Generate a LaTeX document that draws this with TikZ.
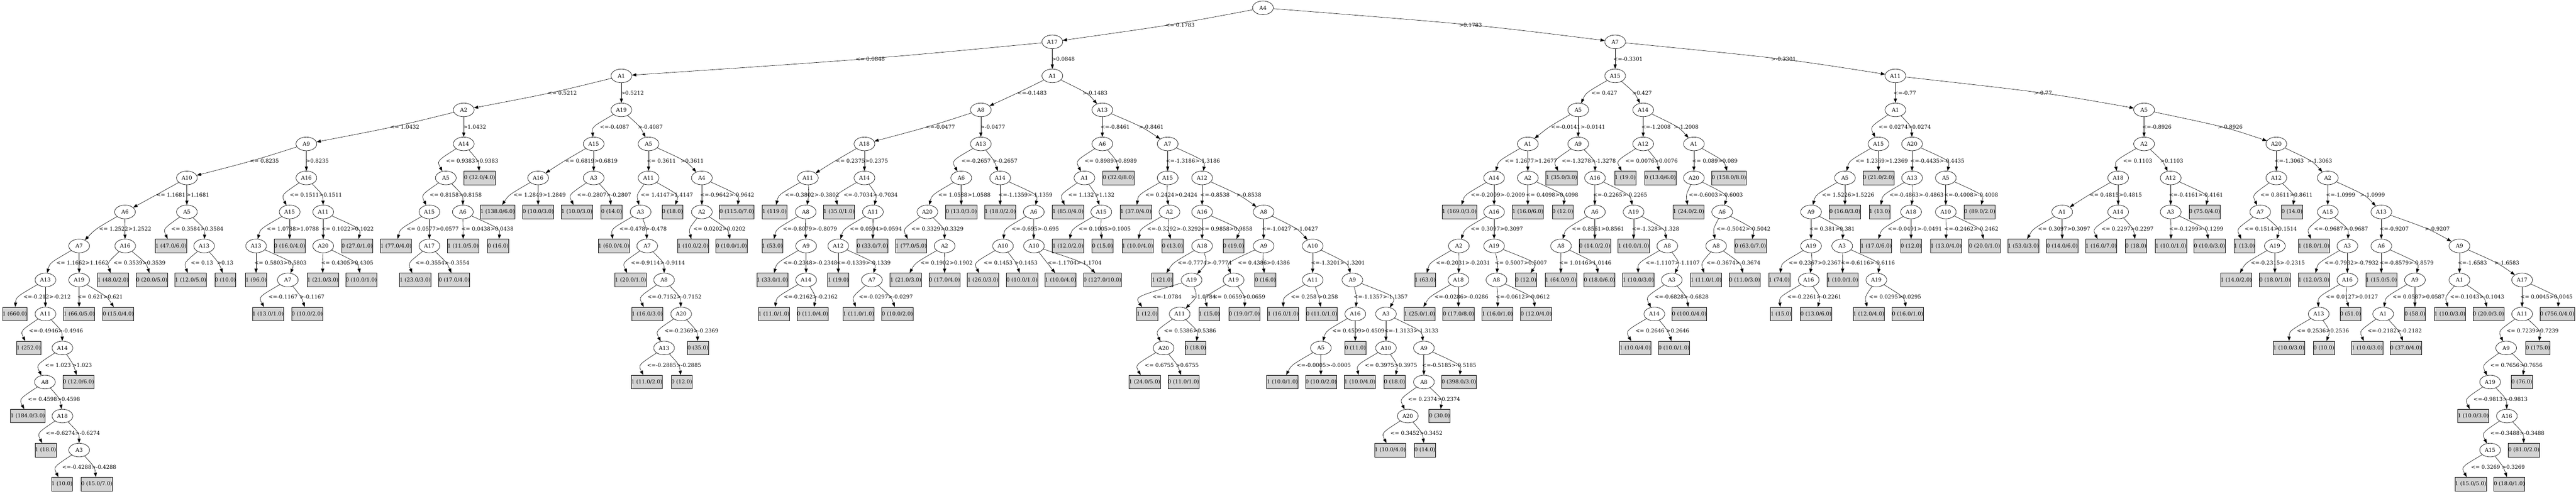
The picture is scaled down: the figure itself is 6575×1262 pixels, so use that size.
\documentclass[tikz,border=0pt]{standalone}
\usepackage{fontspec}
\setmainfont{DejaVu Serif}
\newfontfamily\timesf{Liberation Serif}
\usetikzlibrary{shapes.geometric,arrows.meta}
\definecolor{lgray}{HTML}{D3D3D3}
\newlength\lfw
\newdimen\eEdim
\tikzset{
  tnode/.style={ellipse,draw,line width=0.9pt,minimum width=53pt,minimum height=35pt,inner sep=0pt,font=\fontsize{13.5}{15}\selectfont},
  leafbox/.style={rectangle,draw,line width=0.9pt,fill=lgray,minimum height=35pt,inner sep=0pt,font=\fontsize{13.5}{15}\selectfont},
  elabel/.style={anchor=west,inner sep=0.5pt,font=\fontsize{13.5}{15}\selectfont},
  conn/.style={draw,line width=0.8pt,-{Triangle[length=11pt,width=8pt]}}
}
\newcommand\IN[4]{%
  \expandafter\xdef\csname NX#1\endcsname{#2}%
  \expandafter\xdef\csname NL#1\endcsname{#3}%
  \node[tnode] (#1) at (#2,{-20-86.93*#3}) {#4};}
\newcommand\LF[4]{%
  \expandafter\xdef\csname NX#1\endcsname{#2}%
  \expandafter\xdef\csname NL#1\endcsname{#3}%
  \settowidth{\lfw}{\timesf\fontsize{14}{16}\selectfont #4}%
  \node[leafbox,minimum width=\lfw+15.7pt] (#1) at (#2,{-20-86.93*#3}) {#4};}
\newcommand\EL[4][0]{%
  \pgfmathsetmacro\ePX{\csname NX#2\endcsname}%
  \pgfmathsetmacro\eCX{\csname NX#3\endcsname}%
  \pgfmathsetmacro\eY{-20-86.93*(\csname NL#2\endcsname+0.5)}%
  \pgfmathsetmacro\eD{\ePX-\eCX}%
  \pgfmathsetmacro\eCV{#1+ifthenelse(\eD<-10,\ePX-0.5*(\eD),\eCX+ifthenelse(\eD<50,0,ifthenelse(\eD<150,0.75*(\eD-50),0.55*(\eD)-7.5)))}%
  \pgfmathsetmacro\eLX{\eCV-ifthenelse(abs(\eD)<10,5,0)}%
  \pgfmathsetmacro\eQX{2*\eCV-0.5*(\ePX+\eCX)}%
  \draw[conn] (#2) .. controls (\eQX,\eY) .. (#3);
  \node[elabel] (lab#2L) at (\eLX,\eY) {#4};}
\newcommand\ER[3]{%
  \pgfmathsetmacro\ePX{\csname NX#1\endcsname}%
  \pgfmathsetmacro\eCX{\csname NX#2\endcsname}%
  \pgfmathsetmacro\eY{-20-86.93*(\csname NL#1\endcsname+0.5)}%
  \pgfmathsetmacro\eD{\eCX-\ePX}%
  \pgfextractx{\eEdim}{\pgfpointanchor{lab#1L}{east}}%
  \pgfmathsetmacro\eE{\eEdim-1}%
  \pgfmathsetmacro\eStr{\eD<10}%
  \pgfmathsetmacro\eCV{\ePX+ifthenelse(\eD<10,0,ifthenelse(\eD<150,0.6*(\eD),0.556*(\eD)))}%
  \pgfmathsetmacro\eLX{max(\eCV-2*\eStr,\eE)}%
  \pgfmathsetmacro\eCV{ifthenelse(\eStr>0.5,\eCV,\eLX)}%
  \pgfmathsetmacro\eQX{2*\eCV-0.5*(\ePX+\eCX)}%
  \draw[conn] (#1) .. controls (\eQX,\eY) .. (#2);
  \node[elabel] (lab#1R) at (\eLX,\eY) {#3};}
\begin{document}
\begin{tikzpicture}[x=1pt,y=1pt]
\fill[white] (0,0) rectangle (6575,-1262);
\useasboundingbox (0,0) rectangle (6575,-1262);
% internal nodes
\IN{n0}{3223.5}{0}{A4}
\IN{n1}{2686}{1}{A17}
\IN{n2}{4122.5}{1}{A7}
\IN{n3}{1586}{2}{A1}
\IN{n4}{2686}{2}{A1}
\IN{n5}{1183.6}{3}{A2}
\IN{n6}{1586}{3}{A19}
\IN{n7}{782}{4}{A9}
\IN{n8}{1183.6}{4}{A14}
\IN{n9}{477}{5}{A10}
\IN{n10}{782}{5}{A16}
\IN{n11}{319}{6}{A6}
\IN{n12}{477}{6}{A5}
\IN{n13}{202}{7}{A7}
\IN{n14}{319.6}{7}{A16}
\IN{n15}{116}{8}{A13}
\IN{n16}{202}{8}{A19}
\IN{n17}{116}{9}{A11}
\IN{n18}{159.3}{10}{A14}
\IN{n19}{114.6}{11}{A8}
\IN{n20}{159.3}{12}{A18}
\IN{n21}{202}{13}{A3}
\IN{n22}{521}{7}{A13}
\IN{n23}{739.3}{6}{A15}
\IN{n24}{825}{6}{A11}
\IN{n25}{653.6}{7}{A13}
\IN{n26}{734.6}{8}{A7}
\IN{n27}{825}{7}{A20}
\IN{n28}{1137.9}{5}{A5}
\IN{n29}{1096}{6}{A15}
\IN{n30}{1181.4}{6}{A6}
\IN{n31}{1096}{7}{A17}
\IN{n32}{1515.3}{4}{A15}
\IN{n33}{1655.4}{4}{A5}
\IN{n34}{1373.5}{5}{A16}
\IN{n35}{1515.3}{5}{A3}
\IN{n36}{1655.4}{5}{A11}
\IN{n37}{1791.4}{5}{A4}
\IN{n38}{1635}{6}{A3}
\IN{n39}{1652}{7}{A7}
\IN{n40}{1695}{8}{A8}
\IN{n41}{1738.6}{9}{A20}
\IN{n42}{1695}{10}{A13}
\IN{n43}{1791.4}{6}{A2}
\IN{n44}{2503.5}{3}{A8}
\IN{n45}{2813.6}{3}{A13}
\IN{n46}{2206.4}{4}{A18}
\IN{n47}{2503.5}{4}{A13}
\IN{n48}{2062}{5}{A11}
\IN{n49}{2206.4}{5}{A14}
\IN{n50}{2056.4}{6}{A8}
\IN{n51}{2057.5}{7}{A9}
\IN{n52}{2057.5}{8}{A14}
\IN{n53}{2228}{6}{A11}
\IN{n54}{2139.6}{7}{A12}
\IN{n55}{2225.4}{8}{A7}
\IN{n56}{2453.5}{5}{A6}
\IN{n57}{2552.8}{5}{A14}
\IN{n58}{2367}{6}{A20}
\IN{n59}{2411}{7}{A2}
\IN{n60}{2638.5}{6}{A6}
\IN{n61}{2560}{7}{A10}
\IN{n62}{2639}{7}{A10}
\IN{n63}{2813.6}{4}{A6}
\IN{n64}{2980.3}{4}{A7}
\IN{n65}{2767.9}{5}{A1}
\IN{n66}{2811}{6}{A15}
\IN{n67}{2980.3}{5}{A15}
\IN{n68}{3068.2}{5}{A12}
\IN{n69}{2985}{6}{A2}
\IN{n70}{3068.2}{6}{A16}
\IN{n71}{3225.3}{6}{A8}
\IN{n72}{3068.2}{7}{A18}
\IN{n73}{3041.4}{8}{A19}
\IN{n74}{3011}{9}{A11}
\IN{n75}{2970}{10}{A20}
\IN{n76}{3225.3}{7}{A9}
\IN{n77}{3350.4}{7}{A10}
\IN{n78}{3148.5}{8}{A19}
\IN{n79}{3350.4}{8}{A11}
\IN{n80}{3451.8}{8}{A9}
\IN{n81}{3459.3}{9}{A16}
\IN{n82}{3537.5}{9}{A3}
\IN{n83}{3371.4}{10}{A5}
\IN{n84}{3537.5}{10}{A10}
\IN{n85}{3634.3}{10}{A9}
\IN{n86}{3634.3}{11}{A8}
\IN{n87}{3593.2}{12}{A20}
\IN{n88}{4122.5}{2}{A15}
\IN{n89}{4837.8}{2}{A11}
\IN{n90}{4028.2}{3}{A5}
\IN{n91}{4194}{3}{A14}
\IN{n92}{3899.6}{4}{A1}
\IN{n93}{4028.2}{4}{A9}
\IN{n94}{3813.5}{5}{A14}
\IN{n95}{3899.6}{5}{A2}
\IN{n96}{3813.5}{6}{A16}
\IN{n97}{3723.5}{7}{A2}
\IN{n98}{3813.5}{7}{A19}
\IN{n99}{3722.5}{8}{A18}
\IN{n100}{3819.6}{8}{A8}
\IN{n101}{4071}{5}{A16}
\IN{n102}{4070.7}{6}{A6}
\IN{n103}{4169.6}{6}{A19}
\IN{n104}{3984.3}{7}{A8}
\IN{n105}{4255.7}{7}{A8}
\IN{n106}{4267}{8}{A3}
\IN{n107}{4222.5}{9}{A14}
\IN{n108}{4194}{4}{A12}
\IN{n109}{4323.5}{4}{A1}
\IN{n110}{4323.5}{5}{A20}
\IN{n111}{4395.7}{6}{A6}
\IN{n112}{4380.3}{7}{A8}
\IN{n113}{4837.8}{3}{A1}
\IN{n114}{5472.5}{3}{A5}
\IN{n115}{4794.6}{4}{A15}
\IN{n116}{4880.3}{4}{A20}
\IN{n117}{4709}{5}{A5}
\IN{n118}{4622.5}{6}{A9}
\IN{n119}{4622.5}{7}{A19}
\IN{n120}{4702}{7}{A3}
\IN{n121}{4616.4}{8}{A16}
\IN{n122}{4789.2}{8}{A19}
\IN{n123}{4880.3}{5}{A13}
\IN{n124}{4966.4}{5}{A5}
\IN{n125}{4877.8}{6}{A18}
\IN{n126}{4966.4}{6}{A10}
\IN{n127}{5472.5}{4}{A2}
\IN{n128}{5810}{4}{A20}
\IN{n129}{5406.4}{5}{A18}
\IN{n130}{5540.4}{5}{A12}
\IN{n131}{5263.5}{6}{A1}
\IN{n132}{5406.4}{6}{A14}
\IN{n133}{5540.4}{6}{A3}
\IN{n134}{5810}{5}{A12}
\IN{n135}{5941.4}{5}{A2}
\IN{n136}{5769}{6}{A7}
\IN{n137}{5806.4}{7}{A19}
\IN{n138}{5941.4}{6}{A15}
\IN{n139}{6078}{6}{A13}
\IN{n140}{5991.4}{7}{A3}
\IN{n141}{5991.4}{8}{A16}
\IN{n142}{5918.2}{9}{A13}
\IN{n143}{6078}{7}{A6}
\IN{n144}{6277.5}{7}{A9}
\IN{n145}{6163.8}{8}{A9}
\IN{n146}{6082.8}{9}{A1}
\IN{n147}{6277.5}{8}{A1}
\IN{n148}{6437.4}{8}{A17}
\IN{n149}{6437.4}{9}{A11}
\IN{n150}{6396.7}{10}{A9}
\IN{n151}{6355.7}{11}{A19}
\IN{n152}{6398.5}{12}{A16}
\IN{n153}{6355.7}{13}{A15}
% leaves
\LF{f1}{37.5}{9}{1 (660.0)}
\LF{f2}{73.2}{10}{1 (252.0)}
\LF{f3}{200.3}{11}{0 (12.0/6.0)}
\LF{f4}{70.7}{12}{1 (184.0/3.0)}
\LF{f5}{116.4}{13}{1 (18.0)}
\LF{f6}{158.2}{14}{1 (10.0)}
\LF{f7}{247}{14}{0 (15.0/7.0)}
\LF{f8}{202}{9}{1 (66.0/5.0)}
\LF{f9}{301.8}{9}{0 (15.0/4.0)}
\LF{f10}{288.6}{8}{1 (48.0/2.0)}
\LF{f11}{387.5}{8}{0 (20.0/5.0)}
\LF{f12}{436.4}{7}{1 (47.0/6.0)}
\LF{f13}{486.4}{8}{1 (12.0/5.0)}
\LF{f14}{575}{8}{0 (10.0)}
\LF{f15}{739.3}{7}{0 (16.0/4.0)}
\LF{f16}{653.6}{8}{1 (96.0)}
\LF{f17}{684}{9}{1 (13.0/1.0)}
\LF{f18}{784}{9}{0 (10.0/2.0)}
\LF{f19}{911.4}{7}{0 (27.0/1.0)}
\LF{f20}{824}{8}{1 (21.0/3.0)}
\LF{f21}{922}{8}{0 (10.0/1.0)}
\LF{f22}{1224.3}{5}{0 (32.0/4.0)}
\LF{f23}{1010.7}{7}{1 (77.0/4.0)}
\LF{f24}{1059.6}{8}{1 (23.0/3.0)}
\LF{f25}{1159.3}{8}{0 (17.0/4.0)}
\LF{f26}{1182}{7}{1 (11.0/5.0)}
\LF{f27}{1271.4}{7}{0 (16.0)}
\LF{f28}{1270}{6}{1 (138.0/6.0)}
\LF{f29}{1373.5}{6}{0 (10.0/3.0)}
\LF{f30}{1472.5}{6}{1 (10.0/3.0)}
\LF{f31}{1561}{6}{0 (14.0)}
\LF{f32}{1716.4}{6}{0 (18.0)}
\LF{f33}{1566.6}{7}{1 (60.0/4.0)}
\LF{f34}{1609.5}{8}{1 (20.0/1.0)}
\LF{f35}{1652}{9}{1 (16.0/3.0)}
\LF{f36}{1781.4}{10}{0 (35.0)}
\LF{f37}{1651}{11}{1 (11.0/2.0)}
\LF{f38}{1740}{11}{0 (12.0)}
\LF{f39}{1880.7}{6}{0 (115.0/7.0)}
\LF{f40}{1769}{7}{1 (10.0/2.0)}
\LF{f41}{1867}{7}{0 (10.0/1.0)}
\LF{f42}{1976.8}{6}{1 (119.0)}
\LF{f43}{1971.4}{7}{1 (53.0)}
\LF{f44}{1971.4}{8}{1 (33.0/1.0)}
\LF{f45}{1975.3}{9}{1 (11.0/1.0)}
\LF{f46}{2074.2}{9}{0 (11.0/4.0)}
\LF{f47}{2141.4}{6}{1 (35.0/1.0)}
\LF{f48}{2227}{7}{0 (33.0/7.0)}
\LF{f49}{2139.6}{8}{1 (19.0)}
\LF{f50}{2191.5}{9}{1 (11.0/1.0)}
\LF{f51}{2290.3}{9}{0 (10.0/2.0)}
\LF{f52}{2453.5}{6}{0 (13.0/3.0)}
\LF{f53}{2325.3}{7}{1 (77.0/5.0)}
\LF{f54}{2311.8}{8}{1 (21.0/3.0)}
\LF{f55}{2410.7}{8}{0 (17.0/4.0)}
\LF{f56}{2552.8}{6}{1 (18.0/2.0)}
\LF{f57}{2509}{8}{1 (26.0/3.0)}
\LF{f58}{2608.5}{8}{0 (10.0/1.0)}
\LF{f59}{2707}{8}{1 (10.0/4.0)}
\LF{f60}{2813.6}{8}{0 (127.0/10.0)}
\LF{f61}{2854.6}{5}{0 (32.0/8.0)}
\LF{f62}{2726}{6}{1 (85.0/4.0)}
\LF{f63}{2726}{7}{1 (12.0/2.0)}
\LF{f64}{2814}{7}{0 (15.0)}
\LF{f65}{2899.3}{6}{1 (37.0/4.0)}
\LF{f66}{2903.6}{7}{1 (10.0/4.0)}
\LF{f67}{2992.8}{7}{0 (13.0)}
\LF{f68}{3148.5}{7}{0 (19.0)}
\LF{f69}{2966.4}{8}{1 (21.0)}
\LF{f70}{2928.2}{9}{1 (12.0)}
\LF{f71}{3051.4}{10}{0 (18.0)}
\LF{f72}{2921.4}{11}{1 (24.0/5.0)}
\LF{f73}{3020.7}{11}{0 (11.0/1.0)}
\LF{f74}{3229.6}{8}{0 (16.0)}
\LF{f75}{3086.7}{9}{1 (15.0)}
\LF{f76}{3176}{9}{0 (19.0/7.0)}
\LF{f77}{3275}{9}{1 (16.0/1.0)}
\LF{f78}{3373.6}{9}{0 (11.0/1.0)}
\LF{f79}{3459.3}{10}{0 (11.0)}
\LF{f80}{3273}{11}{1 (10.0/1.0)}
\LF{f81}{3371.8}{11}{0 (10.0/2.0)}
\LF{f82}{3470.7}{11}{1 (10.0/4.0)}
\LF{f83}{3559.3}{11}{0 (18.0)}
\LF{f84}{3723.5}{11}{0 (398.0/3.0)}
\LF{f85}{3674.2}{12}{0 (30.0)}
\LF{f86}{3548.2}{13}{1 (10.0/4.0)}
\LF{f87}{3636.7}{13}{0 (14.0)}
\LF{f88}{3725}{6}{1 (169.0/3.0)}
\LF{f89}{3637.5}{8}{1 (63.0)}
\LF{f90}{3623.5}{9}{1 (25.0/1.0)}
\LF{f91}{3722.5}{9}{0 (17.0/8.0)}
\LF{f92}{3894.6}{8}{0 (12.0)}
\LF{f93}{3822}{9}{1 (16.0/1.0)}
\LF{f94}{3920.7}{9}{0 (12.0/4.0)}
\LF{f95}{3899.6}{6}{1 (16.0/6.0)}
\LF{f96}{3988.6}{6}{0 (12.0)}
\LF{f97}{3985.7}{5}{1 (35.0/3.0)}
\LF{f98}{4070.7}{7}{0 (14.0/2.0)}
\LF{f99}{3984}{8}{1 (64.0/9.0)}
\LF{f100}{4082.5}{8}{0 (18.0/6.0)}
\LF{f101}{4169.6}{7}{1 (10.0/1.0)}
\LF{f102}{4181.4}{8}{1 (10.0/3.0)}
\LF{f103}{4311.8}{9}{0 (100.0/4.0)}
\LF{f104}{4173.5}{10}{1 (10.0/4.0)}
\LF{f105}{4272.5}{10}{0 (10.0/1.0)}
\LF{f106}{4148.2}{5}{1 (19.0)}
\LF{f107}{4237.8}{5}{0 (13.0/6.0)}
\LF{f108}{4413}{5}{0 (158.0/8.0)}
\LF{f109}{4310}{6}{1 (24.0/2.0)}
\LF{f110}{4467.9}{7}{0 (63.0/7.0)}
\LF{f111}{4354.6}{8}{1 (11.0/1.0)}
\LF{f112}{4452.9}{8}{0 (11.0/3.0)}
\LF{f113}{4794.6}{5}{0 (21.0/2.0)}
\LF{f114}{4709}{6}{0 (16.0/3.0)}
\LF{f115}{4541.4}{8}{1 (74.0)}
\LF{f116}{4545.7}{9}{1 (15.0)}
\LF{f117}{4635}{9}{0 (13.0/6.0)}
\LF{f118}{4702.8}{8}{1 (10.0/1.0)}
\LF{f119}{4769.6}{9}{1 (12.0/4.0)}
\LF{f120}{4868.9}{9}{0 (16.0/1.0)}
\LF{f121}{4797.5}{6}{1 (13.0)}
\LF{f122}{4788.5}{7}{1 (17.0/6.0)}
\LF{f123}{4877.8}{7}{0 (12.0)}
\LF{f124}{5052.9}{6}{0 (89.0/2.0)}
\LF{f125}{4967}{7}{1 (13.0/4.0)}
\LF{f126}{5065.3}{7}{0 (20.0/1.0)}
\LF{f127}{5164.3}{7}{1 (53.0/3.0)}
\LF{f128}{5263.5}{7}{0 (14.0/6.0)}
\LF{f129}{5362.8}{7}{1 (16.0/7.0)}
\LF{f130}{5451.7}{7}{0 (18.0)}
\LF{f131}{5627}{6}{0 (75.0/4.0)}
\LF{f132}{5541}{7}{1 (10.0/1.0)}
\LF{f133}{5639.6}{7}{0 (10.0/3.0)}
\LF{f134}{5850}{6}{0 (14.0)}
\LF{f135}{5728.6}{7}{1 (13.0)}
\LF{f136}{5707.5}{8}{1 (14.0/2.0)}
\LF{f137}{5806.4}{8}{0 (18.0/1.0)}
\LF{f138}{5905.7}{7}{1 (18.0/1.0)}
\LF{f139}{5905.7}{8}{1 (12.0/3.0)}
\LF{f140}{5999.3}{9}{0 (51.0)}
\LF{f141}{5842}{10}{1 (10.0/3.0)}
\LF{f142}{5931.4}{10}{0 (10.0)}
\LF{f143}{6078}{8}{1 (15.0/5.0)}
\LF{f144}{6163.8}{9}{0 (58.0)}
\LF{f145}{6042}{10}{1 (10.0/3.0)}
\LF{f146}{6140.5}{10}{0 (37.0/4.0)}
\LF{f147}{6253}{9}{1 (10.0/3.0)}
\LF{f148}{6351.5}{9}{0 (20.0/3.0)}
\LF{f149}{6527}{9}{0 (756.0/4.0)}
\LF{f150}{6477.7}{10}{0 (175.0)}
\LF{f151}{6436.7}{11}{0 (76.0)}
\LF{f152}{6312.6}{12}{1 (10.0/3.0)}
\LF{f153}{6442}{13}{0 (81.0/2.0)}
\LF{f154}{6306.3}{14}{1 (15.0/5.0)}
\LF{f155}{6404.7}{14}{0 (18.0/1.0)}
% edges
\EL{n0}{n1}{<= 0.1783}\ER{n0}{n2}{>0.1783}
\EL{n1}{n3}{<= 0.0848}\ER{n1}{n4}{>0.0848}
\EL{n3}{n5}{<= 0.5212}\ER{n3}{n6}{>0.5212}
\EL{n5}{n7}{<= 1.0432}\ER{n5}{n8}{>1.0432}
\EL{n7}{n9}{<= 0.8235}\ER{n7}{n10}{>0.8235}
\EL{n9}{n11}{<= 1.1681}\ER{n9}{n12}{>1.1681}
\EL{n11}{n13}{<= 1.2522}\ER{n11}{n14}{>1.2522}
\EL{n13}{n15}{<= 1.1662}\ER{n13}{n16}{>1.1662}
\EL{n15}{f1}{<=-0.212}\ER{n15}{n17}{>-0.212}
\EL{n17}{f2}{<=-0.4946}\ER{n17}{n18}{>-0.4946}
\EL{n18}{n19}{<= 1.023}\ER{n18}{f3}{>1.023}
\EL{n19}{f4}{<= 0.4598}\ER{n19}{n20}{>0.4598}
\EL{n20}{f5}{<=-0.6274}\ER{n20}{n21}{>-0.6274}
\EL{n21}{f6}{<=-0.4288}\ER{n21}{f7}{>-0.4288}
\EL{n16}{f8}{<= 0.621}\ER{n16}{f9}{>0.621}
\EL{n14}{f10}{<= 0.3539}\ER{n14}{f11}{>0.3539}
\EL{n12}{f12}{<= 0.3584}\ER{n12}{n22}{>0.3584}
\EL{n22}{f13}{<= 0.13}\ER{n22}{f14}{>0.13}
\EL{n10}{n23}{<= 0.1511}\ER{n10}{n24}{>0.1511}
\EL{n23}{n25}{<= 1.0788}\ER{n23}{f15}{>1.0788}
\EL{n25}{f16}{<= 0.5803}\ER{n25}{n26}{>0.5803}
\EL{n26}{f17}{<=-0.1167}\ER{n26}{f18}{>-0.1167}
\EL{n24}{n27}{<= 0.1022}\ER{n24}{f19}{>0.1022}
\EL{n27}{f20}{<= 0.4305}\ER{n27}{f21}{>0.4305}
\EL{n8}{n28}{<= 0.9383}\ER{n8}{f22}{>0.9383}
\EL{n28}{n29}{<= 0.8158}\ER{n28}{n30}{>0.8158}
\EL{n29}{f23}{<= 0.0577}\ER{n29}{n31}{>0.0577}
\EL{n31}{f24}{<=-0.3554}\ER{n31}{f25}{>-0.3554}
\EL{n30}{f26}{<= 0.0438}\ER{n30}{f27}{>0.0438}
\EL{n6}{n32}{<=-0.4087}\ER{n6}{n33}{>-0.4087}
\EL{n32}{n34}{<= 0.6819}\ER{n32}{n35}{>0.6819}
\EL{n34}{f28}{<= 1.2849}\ER{n34}{f29}{>1.2849}
\EL{n35}{f30}{<=-0.2807}\ER{n35}{f31}{>-0.2807}
\EL{n33}{n36}{<= 0.3611}\ER{n33}{n37}{>0.3611}
\EL{n36}{n38}{<= 1.4147}\ER{n36}{f32}{>1.4147}
\EL{n38}{f33}{<=-0.478}\ER{n38}{n39}{>-0.478}
\EL{n39}{f34}{<=-0.9114}\ER{n39}{n40}{>-0.9114}
\EL{n40}{f35}{<=-0.7152}\ER{n40}{n41}{>-0.7152}
\EL{n41}{n42}{<=-0.2369}\ER{n41}{f36}{>-0.2369}
\EL{n42}{f37}{<=-0.2885}\ER{n42}{f38}{>-0.2885}
\EL{n37}{n43}{<=-0.9642}\ER{n37}{f39}{>-0.9642}
\EL{n43}{f40}{<= 0.0202}\ER{n43}{f41}{>0.0202}
\EL{n4}{n44}{<=-0.1483}\ER{n4}{n45}{>-0.1483}
\EL{n44}{n46}{<=-0.0477}\ER{n44}{n47}{>-0.0477}
\EL{n46}{n48}{<= 0.2375}\ER{n46}{n49}{>0.2375}
\EL{n48}{f42}{<=-0.3802}\ER{n48}{n50}{>-0.3802}
\EL{n50}{f43}{<=-0.8079}\ER{n50}{n51}{>-0.8079}
\EL{n51}{f44}{<=-0.2348}\ER{n51}{n52}{>-0.2348}
\EL{n52}{f45}{<=-0.2162}\ER{n52}{f46}{>-0.2162}
\EL{n49}{f47}{<=-0.7034}\ER{n49}{n53}{>-0.7034}
\EL{n53}{n54}{<= 0.0594}\ER{n53}{f48}{>0.0594}
\EL{n54}{f49}{<=-0.1339}\ER{n54}{n55}{>-0.1339}
\EL{n55}{f50}{<=-0.0297}\ER{n55}{f51}{>-0.0297}
\EL{n47}{n56}{<=-0.2657}\ER{n47}{n57}{>-0.2657}
\EL{n56}{n58}{<= 1.0588}\ER{n56}{f52}{>1.0588}
\EL{n58}{f53}{<= 0.3329}\ER{n58}{n59}{>0.3329}
\EL{n59}{f54}{<= 0.1902}\ER{n59}{f55}{>0.1902}
\EL{n57}{f56}{<=-1.1359}\ER{n57}{n60}{>-1.1359}
\EL{n60}{n61}{<=-0.695}\ER{n60}{n62}{>-0.695}
\EL{n61}{f57}{<= 0.1453}\ER{n61}{f58}{>0.1453}
\EL{n62}{f59}{<=-1.1704}\ER{n62}{f60}{>-1.1704}
\EL{n45}{n63}{<=-0.8461}\ER{n45}{n64}{>-0.8461}
\EL{n63}{n65}{<= 0.8989}\ER{n63}{f61}{>0.8989}
\EL{n65}{f62}{<= 1.132}\ER{n65}{n66}{>1.132}
\EL{n66}{f63}{<= 0.1005}\ER{n66}{f64}{>0.1005}
\EL{n64}{n67}{<=-1.3186}\ER{n64}{n68}{>-1.3186}
\EL{n67}{f65}{<= 0.2424}\ER{n67}{n69}{>0.2424}
\EL{n69}{f66}{<=-0.3292}\ER{n69}{f67}{>-0.3292}
\EL{n68}{n70}{<=-0.8538}\ER{n68}{n71}{>-0.8538}
\EL{n70}{n72}{<= 0.9858}\ER{n70}{f68}{>0.9858}
\EL{n72}{f69}{<=-0.7774}\ER{n72}{n73}{>-0.7774}
\EL[-35]{n73}{f70}{<=-1.0784}\ER{n73}{n74}{>-1.0784}
\EL{n74}{n75}{<= 0.5386}\ER{n74}{f71}{>0.5386}
\EL{n75}{f72}{<= 0.6755}\ER{n75}{f73}{>0.6755}
\EL{n71}{n76}{<=-1.0427}\ER{n71}{n77}{>-1.0427}
\EL[-10]{n76}{n78}{<= 0.4386}\ER{n76}{f74}{>0.4386}
\EL{n78}{f75}{<= 0.0659}\ER{n78}{f76}{>0.0659}
\EL{n77}{n79}{<=-1.3201}\ER{n77}{n80}{>-1.3201}
\EL{n79}{f77}{<= 0.258}\ER{n79}{f78}{>0.258}
\EL{n80}{n81}{<=-1.1357}\ER{n80}{n82}{>-1.1357}
\EL{n81}{n83}{<= 0.4509}\ER{n81}{f79}{>0.4509}
\EL{n83}{f80}{<=-0.0005}\ER{n83}{f81}{>-0.0005}
\EL{n82}{n84}{<=-1.3133}\ER{n82}{n85}{>-1.3133}
\EL{n84}{f82}{<= 0.3975}\ER{n84}{f83}{>0.3975}
\EL{n85}{n86}{<=-0.5185}\ER{n85}{f84}{>-0.5185}
\EL{n86}{n87}{<= 0.2374}\ER{n86}{f85}{>0.2374}
\EL{n87}{f86}{<= 0.3452}\ER{n87}{f87}{>0.3452}
\EL{n2}{n88}{<=-0.3301}\ER{n2}{n89}{>-0.3301}
\EL{n88}{n90}{<= 0.427}\ER{n88}{n91}{>0.427}
\EL{n90}{n92}{<=-0.0141}\ER{n90}{n93}{>-0.0141}
\EL{n92}{n94}{<= 1.2677}\ER{n92}{n95}{>1.2677}
\EL{n94}{f88}{<=-0.2009}\ER{n94}{n96}{>-0.2009}
\EL{n96}{n97}{<= 0.3097}\ER{n96}{n98}{>0.3097}
\EL{n97}{f89}{<=-0.2031}\ER{n97}{n99}{>-0.2031}
\EL{n99}{f90}{<=-0.0286}\ER{n99}{f91}{>-0.0286}
\EL{n98}{n100}{<= 0.5007}\ER{n98}{f92}{>0.5007}
\EL{n100}{f93}{<=-0.0612}\ER{n100}{f94}{>-0.0612}
\EL{n95}{f95}{<= 0.4098}\ER{n95}{f96}{>0.4098}
\EL{n93}{f97}{<=-1.3278}\ER{n93}{n101}{>-1.3278}
\EL{n101}{n102}{<=-0.2265}\ER{n101}{n103}{>-0.2265}
\EL{n102}{n104}{<= 0.8561}\ER{n102}{f98}{>0.8561}
\EL{n104}{f99}{<= 1.0146}\ER{n104}{f100}{>1.0146}
\EL{n103}{f101}{<=-1.328}\ER{n103}{n105}{>-1.328}
\EL{n105}{f102}{<=-1.1107}\ER{n105}{n106}{>-1.1107}
\EL{n106}{n107}{<=-0.6828}\ER{n106}{f103}{>-0.6828}
\EL{n107}{f104}{<= 0.2646}\ER{n107}{f105}{>0.2646}
\EL{n91}{n108}{<=-1.2008}\ER{n91}{n109}{>-1.2008}
\EL{n108}{f106}{<= 0.0076}\ER{n108}{f107}{>0.0076}
\EL{n109}{n110}{<= 0.089}\ER{n109}{f108}{>0.089}
\EL{n110}{f109}{<=-0.6003}\ER{n110}{n111}{>-0.6003}
\EL{n111}{n112}{<=-0.5042}\ER{n111}{f110}{>-0.5042}
\EL{n112}{f111}{<=-0.3674}\ER{n112}{f112}{>-0.3674}
\EL{n89}{n113}{<=-0.77}\ER{n89}{n114}{>-0.77}
\EL{n113}{n115}{<= 0.0274}\ER{n113}{n116}{>0.0274}
\EL{n115}{n117}{<= 1.2369}\ER{n115}{f113}{>1.2369}
\EL{n117}{n118}{<= 1.5226}\ER{n117}{f114}{>1.5226}
\EL{n118}{n119}{<= 0.381}\ER{n118}{n120}{>0.381}
\EL{n119}{f115}{<= 0.2367}\ER{n119}{n121}{>0.2367}
\EL{n121}{f116}{<=-0.2261}\ER{n121}{f117}{>-0.2261}
\EL{n120}{f118}{<=-0.6116}\ER{n120}{n122}{>-0.6116}
\EL{n122}{f119}{<= 0.0295}\ER{n122}{f120}{>0.0295}
\EL{n116}{n123}{<=-0.4435}\ER{n116}{n124}{>-0.4435}
\EL{n123}{f121}{<=-0.4863}\ER{n123}{n125}{>-0.4863}
\EL{n125}{f122}{<=-0.0491}\ER{n125}{f123}{>-0.0491}
\EL{n124}{n126}{<=-0.4008}\ER{n124}{f124}{>-0.4008}
\EL{n126}{f125}{<=-0.2462}\ER{n126}{f126}{>-0.2462}
\EL{n114}{n127}{<=-0.8926}\ER{n114}{n128}{>-0.8926}
\EL{n127}{n129}{<= 0.1103}\ER{n127}{n130}{>0.1103}
\EL{n129}{n131}{<= 0.4815}\ER{n129}{n132}{>0.4815}
\EL{n131}{f127}{<= 0.3097}\ER{n131}{f128}{>0.3097}
\EL{n132}{f129}{<= 0.2297}\ER{n132}{f130}{>0.2297}
\EL{n130}{n133}{<=-0.4161}\ER{n130}{f131}{>-0.4161}
\EL{n133}{f132}{<=-0.1299}\ER{n133}{f133}{>-0.1299}
\EL{n128}{n134}{<=-1.3063}\ER{n128}{n135}{>-1.3063}
\EL{n134}{n136}{<= 0.8611}\ER{n134}{f134}{>0.8611}
\EL{n136}{f135}{<= 0.1514}\ER{n136}{n137}{>0.1514}
\EL{n137}{f136}{<=-0.2315}\ER{n137}{f137}{>-0.2315}
\EL{n135}{n138}{<=-1.0999}\ER{n135}{n139}{>-1.0999}
\EL{n138}{f138}{<=-0.9687}\ER{n138}{n140}{>-0.9687}
\EL{n140}{f139}{<=-0.7932}\ER{n140}{n141}{>-0.7932}
\EL{n141}{n142}{<= 0.0127}\ER{n141}{f140}{>0.0127}
\EL{n142}{f141}{<= 0.2536}\ER{n142}{f142}{>0.2536}
\EL{n139}{n143}{<=-0.9207}\ER{n139}{n144}{>-0.9207}
\EL{n143}{f143}{<=-0.8579}\ER{n143}{n145}{>-0.8579}
\EL{n145}{n146}{<= 0.0587}\ER{n145}{f144}{>0.0587}
\EL{n146}{f145}{<=-0.2182}\ER{n146}{f146}{>-0.2182}
\EL{n144}{n147}{<=-1.6583}\ER{n144}{n148}{>-1.6583}
\EL{n147}{f147}{<=-0.1043}\ER{n147}{f148}{>-0.1043}
\EL{n148}{n149}{<= 0.0045}\ER{n148}{f149}{>0.0045}
\EL{n149}{n150}{<= 0.7239}\ER{n149}{f150}{>0.7239}
\EL{n150}{n151}{<= 0.7656}\ER{n150}{f151}{>0.7656}
\EL{n151}{f152}{<=-0.9813}\ER{n151}{n152}{>-0.9813}
\EL{n152}{n153}{<=-0.3488}\ER{n152}{f153}{>-0.3488}
\EL{n153}{f154}{<= 0.3269}\ER{n153}{f155}{>0.3269}
\end{tikzpicture}
\end{document}
